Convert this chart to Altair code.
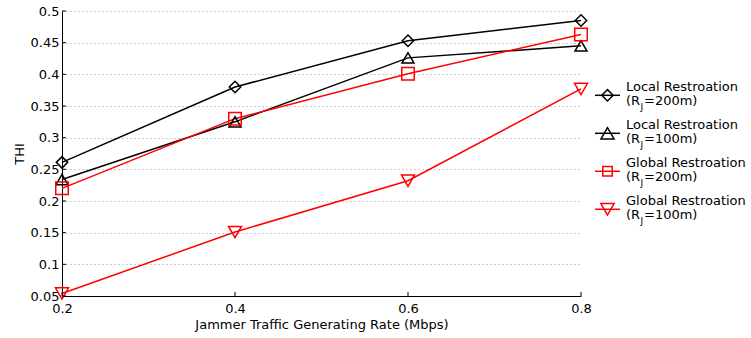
import altair as alt
import pandas as pd

# ---- data ----
rates = [0.2, 0.4, 0.6, 0.8]
local_200 = [0.261, 0.380, 0.453, 0.485]
local_100 = [0.234, 0.325, 0.426, 0.445]
global_200 = [0.220, 0.330, 0.401, 0.463]
global_100 = [0.054, 0.151, 0.232, 0.377]

series_keys = ["Local 200", "Local 100", "Global 200", "Global 100"]
series_values = [local_200, local_100, global_200, global_100]
series_line1 = ["Local Restroation", "Local Restroation", "Global Restroation", "Global Restroation"]
series_line2 = ["=200m)", "=100m)", "=200m)", "=100m)"]
series_colors = ["#000000", "#000000", "#ff0000", "#ff0000"]
series_shapes = ["diamond", "triangle-up", "square", "triangle-down"]
series_sizes = [130, 170, 90, 175]

y_ticks = [0.05, 0.1, 0.15, 0.2, 0.25, 0.3, 0.35, 0.4, 0.45, 0.5]
x_ticks = [0.2, 0.4, 0.6, 0.8]

FONT = "DejaVu Sans"
W, H = 519, 285

rows = []
for k, vals in zip(series_keys, series_values):
    for r, v in zip(rates, vals):
        rows.append({"rate": r, "thi": v, "series": k})
df = pd.DataFrame(rows)

xscale = alt.Scale(domain=[0.2, 0.8], nice=False, zero=False)
yscale = alt.Scale(domain=[0.05, 0.5], nice=False, zero=False)
cscale = alt.Scale(domain=series_keys, range=series_colors)
sscale = alt.Scale(domain=series_keys, range=series_shapes)
zscale = alt.Scale(domain=series_keys, range=series_sizes)

x_axis = alt.Axis(values=x_ticks, format="~g", title="Jammer Traffic Generating Rate (Mbps)",
                  grid=False, ticks=False, tickSize=0, labelPadding=6, labelOverlap=False,
                  labelFlush=False, titleBaseline="alphabetic", titleY=32)
y_axis = alt.Axis(values=y_ticks, format="~g", title="THI", grid=True, gridDash=[1, 3],
                  gridColor="#999999", gridWidth=1, ticks=False, tickSize=0, labelPadding=3,
                  labelOverlap=False, labelFlush=False, titleBaseline="alphabetic", titleX=-39)

base = alt.Chart(df)
lines = base.mark_line(strokeWidth=1.5).encode(
    x=alt.X("rate:Q", scale=xscale, axis=x_axis),
    y=alt.Y("thi:Q", scale=yscale, axis=y_axis),
    color=alt.Color("series:N", scale=cscale, legend=None),
    detail="series:N",
)
points = base.mark_point(filled=False, strokeWidth=1.5, opacity=1).encode(
    x=alt.X("rate:Q", scale=xscale, axis=x_axis),
    y=alt.Y("thi:Q", scale=yscale, axis=y_axis),
    color=alt.Color("series:N", scale=cscale, legend=None),
    shape=alt.Shape("series:N", scale=sscale, legend=None),
    size=alt.Size("series:N", scale=zscale, legend=None),
)

# inward ticks (MATLAB style)
xt = alt.Chart(pd.DataFrame({"rate": x_ticks})).mark_rule(color="black", strokeWidth=1).encode(
    x=alt.X("rate:Q", scale=xscale, axis=x_axis), y=alt.value(H), y2=alt.value(H - 4))
yt = alt.Chart(pd.DataFrame({"thi": y_ticks})).mark_rule(color="black", strokeWidth=1).encode(
    y=alt.Y("thi:Q", scale=yscale, axis=y_axis), x=alt.value(0), x2=alt.value(4))

# manual legend (two-line labels with subscript J)
one = pd.DataFrame({"a": [0]})
legend_layers = []
for i in range(len(series_keys)):
    sy = 84.3 + 38 * i
    c = series_colors[i]
    legend_layers.append(alt.Chart(one).mark_rule(color=c, strokeWidth=1.5).encode(
        x=alt.value(533), x2=alt.value(558), y=alt.value(sy)))
    legend_layers.append(alt.Chart(one).mark_point(
        shape=series_shapes[i], filled=False, color=c, size=series_sizes[i], strokeWidth=1.5, opacity=1
    ).encode(x=alt.value(545.5), y=alt.value(sy)))
    legend_layers.append(alt.Chart(one).mark_text(
        align="left", baseline="alphabetic", font=FONT, fontSize=13, color="black"
    ).encode(x=alt.value(564), y=alt.value(sy - 4), text=alt.value(series_line1[i])))
    legend_layers.append(alt.Chart(one).mark_text(
        align="left", baseline="alphabetic", font=FONT, fontSize=13, color="black"
    ).encode(x=alt.value(564), y=alt.value(sy + 9.5), text=alt.value("(R")))
    legend_layers.append(alt.Chart(one).mark_text(
        align="left", baseline="alphabetic", font=FONT, fontSize=9, color="black"
    ).encode(x=alt.value(578.5), y=alt.value(sy + 14.5), text=alt.value("J")))
    legend_layers.append(alt.Chart(one).mark_text(
        align="left", baseline="alphabetic", font=FONT, fontSize=13, color="black"
    ).encode(x=alt.value(582), y=alt.value(sy + 9.5), text=alt.value(series_line2[i])))

chart = alt.layer(lines, points, xt, yt, *legend_layers).properties(
    width=W, height=H,
    padding={"left": 62, "top": 11, "right": 751 - 62 - W, "bottom": 338 - 11 - H},
    autosize=alt.AutoSizeParams(type="none"),
    background="white",
).configure_view(stroke=None).configure_axis(
    domainColor="black", domainWidth=1,
    labelFont=FONT, labelFontSize=13, labelColor="black",
    titleFont=FONT, titleFontSize=13, titleColor="black", titleFontWeight="normal",
)

chart.save("out.html", embed_options={"renderer": "svg", "actions": False})
